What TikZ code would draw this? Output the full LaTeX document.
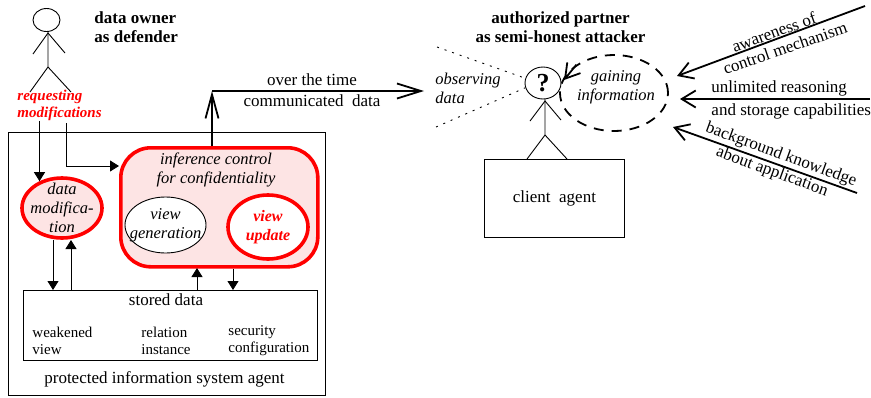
\documentclass[tikz,border=0pt]{standalone}
\usepackage{fontspec}
\setmainfont{Liberation Serif}
\usetikzlibrary{arrows.meta,shapes.geometric}
\definecolor{boxpink}{RGB}{253,228,228}
\tikzset{
  body/.style={font=\fontsize{17}{19}\selectfont,align=center,inner sep=0pt},
  emph/.style={body,font=\fontsize{16.5}{19}\selectfont\itshape},
  redemph/.style={body,text=red,font=\fontsize{15}{17}\selectfont\itshape\bfseries},
  heading/.style={body,font=\fontsize{17}{19}\selectfont\bfseries},
  small/.style={body,align=left,font=\fontsize{15}{17}\selectfont},
  redline/.style={draw=red,line width=3.6pt},
  solid tip/.style={-{Triangle[length=9pt,width=11pt]}},
  open tip/.style={line width=1.8pt,-{Straight Barb[length=14pt,width=17pt,line width=1.8pt]}},
  narrow tip/.style={line width=1.8pt,-{Straight Barb[length=24pt,width=13pt,line width=1.8pt]}}
}
\begin{document}
\begin{tikzpicture}[x=1pt,y=-1pt,line width=0.9pt]
    \useasboundingbox (0,0) rectangle (871,397);
    % owner
    \node[draw,ellipse,minimum width=27pt,minimum height=23pt,inner sep=0pt] (ownerhead) at (46.5,20) {};
    \draw (48,32) -- (48,67) -- (30,92);
    \draw (48,67) -- (71,92);
    \draw (33,54) -- (48,33) -- (65,53);
    \node[heading,anchor=west,align=left] (ownertitle) at (94,27.5) {data owner\\as defender};
    \node[redemph,anchor=west,align=left] (request) at (17,105) {requesting\\modifications};

    % information system
    \node[draw,minimum width=317pt,minimum height=263pt,anchor=north west,inner sep=0pt] (system) at (8,132) {};
    \node[body] (systemlabel) at (164.5,379) {protected information system agent};
    \node[redline,fill=boxpink,rounded corners=30pt,minimum width=197pt,minimum height=119pt,anchor=north west,inner sep=0pt] (control) at (119,146) {};
    \node[emph] (controllabel) at (216,169.5) {inference control\\for confidentiality};
    \node[redline,fill=boxpink,ellipse,minimum width=80pt,minimum height=60pt,inner sep=0pt] (modify) at (62,208) {};
    \node[emph] (modifylabel) at (modify) {data\\modifica-\\tion};
    \node[draw,fill=white,ellipse,minimum width=81pt,minimum height=56pt,inner sep=0pt] (generate) at (165.5,225) {};
    \node[emph] (generatelabel) at (generate) {view\\generation};
    \node[redline,fill=white,ellipse,minimum width=80pt,minimum height=64pt,inner sep=0pt] (update) at (268,227) {};
    \node[redemph,font=\fontsize{16}{19}\selectfont\itshape\bfseries] (updatelabel) at (update) {view\\update};

    % stored data
    \node[draw,minimum width=294pt,minimum height=70pt,anchor=north west,inner sep=0pt] (store) at (23,290) {};
    \node[body] (storelabel) at (166,300) {stored data};
    \foreach \n/\x/\a/\b in {weak/32/weakened/view, rel/141/relation/instance, sec/228/security/configuration}
    \node[small,anchor=west] (\n) at (\x,340.5) {\a\\\b};

    % arrows inside
    \draw[solid tip] (modify.130 |- request.south) -- (modify.130);
    \coordinate (reqturn) at (66,123);
    \draw[solid tip] (reqturn) |- (119,166);
    \draw[solid tip] (53,0 |- modify.south) -- (53,0 |- store.north);
    \draw[solid tip] (71,0 |- store.north) -- (71,240);
    \draw[solid tip] (197,0 |- store.north) -- (197,268);
    \draw[solid tip] (233,0 |- control.south) -- (233,0 |- store.north);

    % communication
    \coordinate (bend) at (212,91);
    \coordinate (obstip) at (424,91);
    \draw[narrow tip] (bend |- control.north) -- (bend);
    \draw[line width=1.8pt,-{Straight Barb[length=24pt,width=15pt,line width=1.8pt]}] (bend) -- (obstip);
    \node[body] (overlabel) at (312,80) {over the time};
    \node[body] (commlabel) at (312,101) {communicated\ \ data};

    % partner
    \node[draw,ellipse,minimum width=36pt,minimum height=32pt,inner sep=0pt,font=\fontsize{26}{26}\selectfont\bfseries] (partnerhead) at (543,83) {?};
    \draw (545,99) -- (545,135) -- (527,159);
    \draw (545,135) -- (567,159);
    \draw (530,121) -- (545,101) -- (561,120);
    \node[heading] (partnertitle) at (560.5,27.5) {authorized partner\\as semi-honest attacker};
    \node[draw,minimum width=140pt,minimum height=78pt,anchor=north west,inner sep=0pt] (client) at (484,159) {};
    \node[body] (clientlabel) at (client.center) {client\ \ agent};

    % observing
    \draw[dash pattern=on 2pt off 6pt] (437,47) -- (partnerhead.165);
    \draw[dash pattern=on 2pt off 6pt] (436,127) -- (partnerhead.195);
    \node[emph,anchor=west,align=left] (observe) at (435,88.5) {observing\\data};

    % gaining
    \node[draw,ellipse,line width=1.8pt,dash pattern=on 10pt off 8pt,minimum width=108pt,minimum height=76pt,inner sep=0pt] (gain) at (614,93) {};
    \node[emph] (gainlabel) at (616,87.5) {gaining\\information};
    \coordinate (gaintip) at (564,80);
    \draw[open tip] (gain.143) -- (gaintip);

    % attacker knowledge
    \coordinate (awarefrom) at (865,6);
    \coordinate (reasonfrom) at (870,99);
    \coordinate (backfrom) at (857,193);
    \draw[open tip] (awarefrom) -- (677,76);
    \draw[open tip] (reasonfrom) -- (680,99);
    \draw[open tip] (backfrom) -- (673,127);
    \node[body,rotate=20] (aware) at (774,32) {awareness of};
    \node[body,rotate=19] (mechanism) at (785,48) {control mechanism};
    \node[body,anchor=west] (reason) at (711,88) {unlimited reasoning};
    \node[body,anchor=west] (storage) at (711,111.5) {and storage capabilities};
    \node[body,rotate=-20] (backg) at (781,155) {background knowledge};
    \node[body,rotate=-20] (about) at (772,172) {about application};
\end{tikzpicture}
\end{document}
